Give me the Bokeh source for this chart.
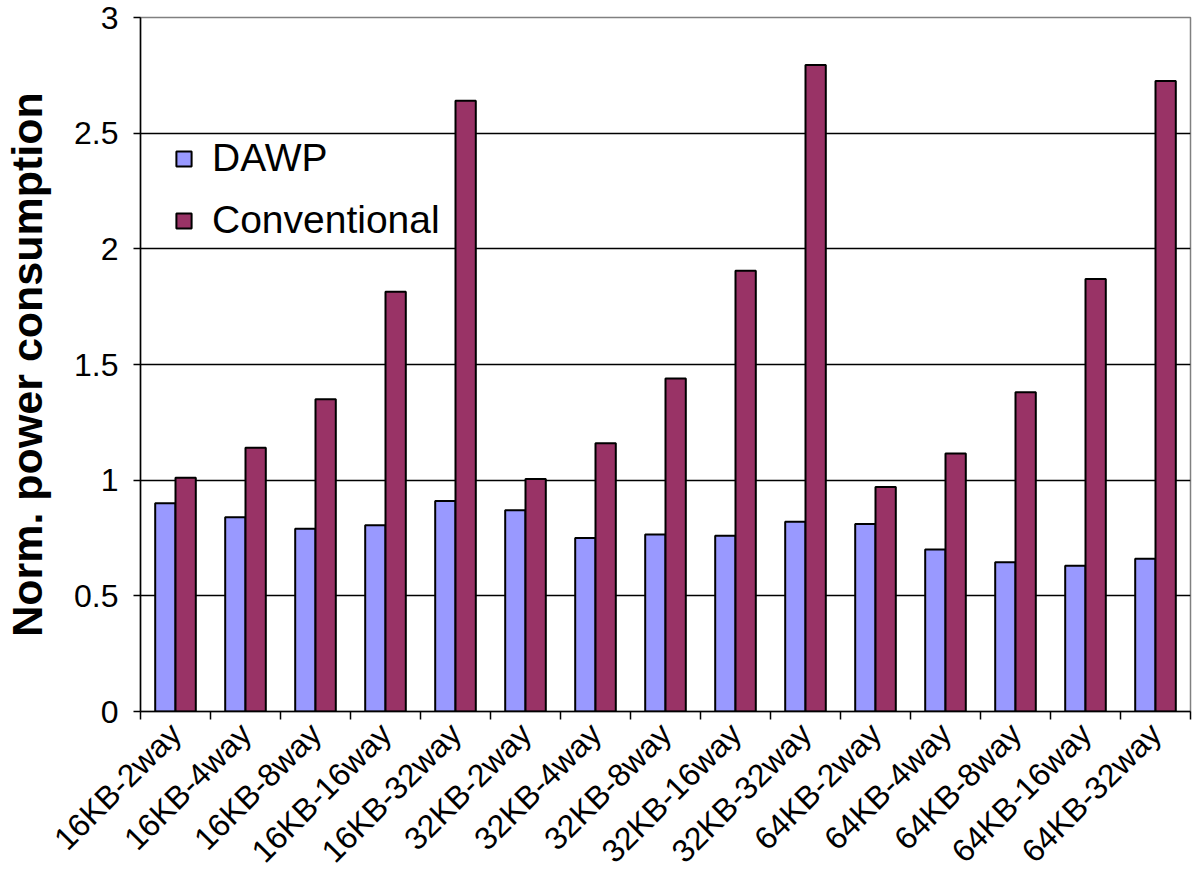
import math
from bokeh.plotting import figure
from bokeh.models import (ColumnDataSource, FixedTicker, PrintfTickFormatter,
                          Range1d, Legend, LegendItem)
from bokeh.transform import dodge
from bokeh.embed import file_html
from bokeh.resources import INLINE

categories = ["16KB-2way", "16KB-4way", "16KB-8way", "16KB-16way", "16KB-32way",
              "32KB-2way", "32KB-4way", "32KB-8way", "32KB-16way", "32KB-32way",
              "64KB-2way", "64KB-4way", "64KB-8way", "64KB-16way", "64KB-32way"]
dawp = [0.90, 0.84, 0.79, 0.805, 0.91,
        0.87, 0.75, 0.765, 0.76, 0.82,
        0.81, 0.70, 0.645, 0.63, 0.66]
conventional = [1.01, 1.14, 1.35, 1.815, 2.64,
                1.005, 1.16, 1.44, 1.905, 2.795,
                0.97, 1.115, 1.38, 1.87, 2.725]
y_ticks = [0, 0.5, 1, 1.5, 2, 2.5, 3]
series_names = ["DAWP", "Conventional"]

FONT = "Liberation Sans"
idx = list(range(len(categories)))
src = ColumnDataSource(dict(x=idx, dawp=dawp, conv=conventional))

p = figure(width=1192, height=885, output_backend="svg", toolbar_location=None,
           x_range=Range1d(-0.5, len(categories) - 0.5), y_range=Range1d(0, 3),
           min_border_left=130, min_border_right=2, min_border_top=17,
           min_border_bottom=150)
p.background_fill_color = "white"
p.border_fill_color = "white"
p.outline_line_color = "#808080"
p.outline_line_width = 1.5

r1 = p.vbar(x=dodge("x", -0.145), top="dawp", width=0.29, source=src,
            fill_color="#9999FF", line_color="black", line_width=2)
r2 = p.vbar(x=dodge("x", 0.145), top="conv", width=0.29, source=src,
            fill_color="#993366", line_color="black", line_width=2)

# grid
p.xgrid.visible = False
p.ygrid.ticker = FixedTicker(ticks=[t for t in y_ticks if 0 < t < 3])
p.ygrid.grid_line_color = "black"
p.ygrid.grid_line_width = 1.3

# y axis
ya = p.yaxis[0]
ya.ticker = FixedTicker(ticks=y_ticks, minor_ticks=[])
ya.formatter = PrintfTickFormatter(format="%g")
ya.axis_label = "Norm. power consumption"
ya.axis_label_text_font = FONT
ya.axis_label_text_font_size = "43px"
ya.axis_label_text_font_style = "bold"
ya.axis_label_text_color = "black"
ya.axis_label_standoff = 20
ya.major_label_text_font = FONT
ya.major_label_text_font_size = "32px"
ya.major_label_text_color = "black"
ya.major_label_standoff = 15
ya.major_tick_out = 7
ya.major_tick_in = 0
ya.major_tick_line_width = 1.5
ya.axis_line_width = 1.5
ya.axis_line_color = "black"

# x axis: labels at category centres, ticks at boundaries
xa = p.xaxis[0]
xa.ticker = FixedTicker(ticks=idx, minor_ticks=[i - 0.5 for i in range(len(categories) + 1)])
xa.major_label_overrides = {i: c for i, c in enumerate(categories)}
xa.major_label_orientation = math.pi / 4
xa.major_label_text_font = FONT
xa.major_label_text_font_size = "32px"
xa.major_label_text_color = "black"
xa.major_label_standoff = 9
xa.major_tick_out = 0
xa.major_tick_in = 0
xa.minor_tick_out = 8
xa.minor_tick_in = 0
xa.minor_tick_line_width = 1.5
xa.minor_tick_line_color = "black"
xa.axis_line_width = 1.5
xa.axis_line_color = "black"

legend = Legend(items=[LegendItem(label=series_names[0], renderers=[r1]),
                       LegendItem(label=series_names[1], renderers=[r2])],
                location=(34, 469), orientation="vertical")
legend.label_text_font = FONT
legend.label_text_font_size = "39px"
legend.label_text_color = "black"
legend.glyph_width = 19
legend.glyph_height = 19
legend.label_standoff = 19
legend.spacing = 18
legend.padding = 0
legend.margin = 0
legend.border_line_color = None
legend.background_fill_alpha = 0
p.add_layout(legend)

open("out.html", "w").write(file_html(p, INLINE))
